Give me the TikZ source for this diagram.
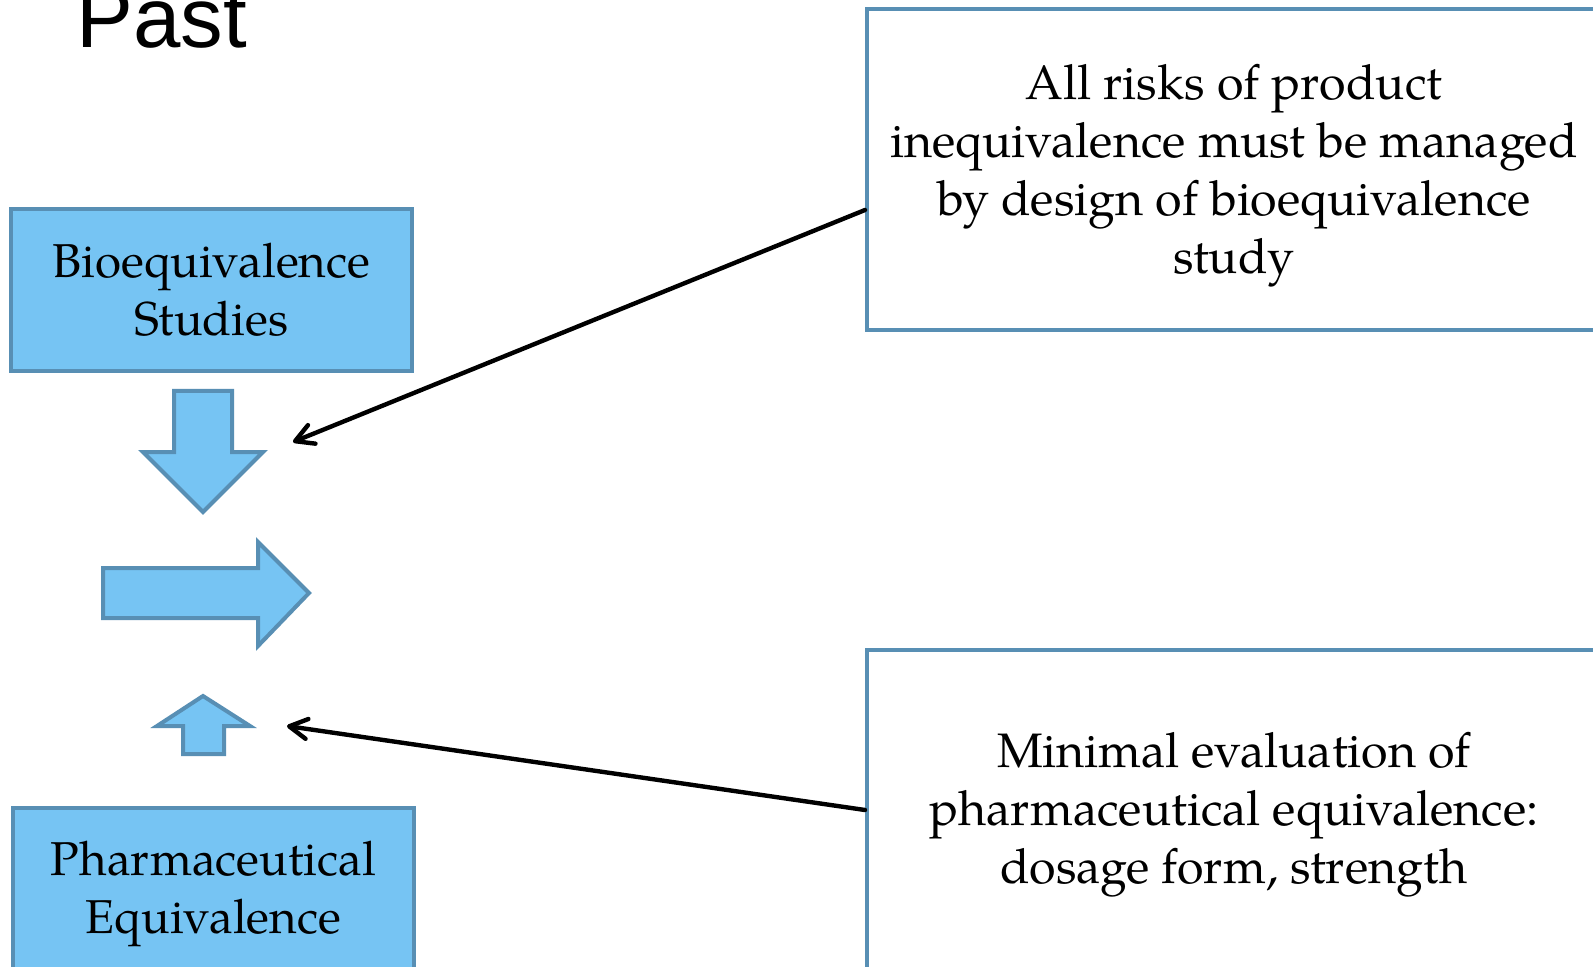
\documentclass[tikz,border=0pt]{standalone}
\usepackage{fontspec}
\setmainfont{texgyrepagella}[Extension=.otf, UprightFont=*-regular]
\newfontfamily\titlefont{Liberation Sans}
\usetikzlibrary{arrows.meta}
\definecolor{boxfill}{RGB}{118,196,243}
\definecolor{boxline}{RGB}{88,143,180}
\tikzset{
  bluebox/.style={draw=boxline, fill=boxfill, line width=2pt, align=center, inner sep=0pt,
    font=\fontsize{23.75}{29}\selectfont},
  notebox/.style={draw=boxline, fill=white, line width=2pt, inner sep=0pt},
  notetext/.style={align=center, inner sep=0pt, font=\fontsize{24.2}{29}\selectfont},
  blockarrow/.style={draw=boxline, fill=boxfill, line width=2pt, line join=miter},
  conn/.style={line width=2.2pt, -{Straight Barb[length=9pt,width=10pt,line cap=round,line join=round]}, line cap=round}
}
\begin{document}
\begin{tikzpicture}[x=0.5pt, y=-0.5pt]
\useasboundingbox (0,0) rectangle (1593,967);
\clip (0,0) rectangle (1593,967);
\fill[white] (0,0) rectangle (1593,967);

% title
\node[anchor=base west, inner sep=0pt, font=\titlefont\fontsize{42.6}{46}\selectfont] (title) at (76,48) {Past};

% left boxes
\node[bluebox, minimum width=200.5pt, minimum height=81pt] (bio) at (211.5,290) {Bioequivalence\\Studies};
\node[bluebox, minimum width=200.5pt, minimum height=86pt] (pharm) at (213.5,894) {Pharmaceutical\\Equivalence};

% block arrows
\draw[blockarrow] (174,391) -- (232,391) -- (232,452) -- (263,452) -- (203,512) -- (143,452) -- (174,452) -- cycle;
\draw[blockarrow] (103,568) -- (258,568) -- (258,542) -- (309,593) -- (258,646) -- (258,618) -- (103,618) -- cycle;
\draw[blockarrow] (203,696) -- (250,726) -- (224,726) -- (224,754) -- (183,754) -- (183,726) -- (157,726) -- cycle;

% right boxes
\node[notebox, minimum width=416.5pt, minimum height=160.5pt] (rbox1) at (1283.5,169.5) {};
\node[notetext] (rtext1) at (1234,175.5) {All risks of product\\inequivalence must be managed\\by design of bioequivalence\\study};
\node[notebox, minimum width=416.5pt, minimum height=170pt] (rbox2) at (1283.5,820) {};
\node[notetext] (rtext2) at (1234,815) {Minimal evaluation of\\pharmaceutical equivalence:\\dosage form, strength};

% connectors
\coordinate (tip1) at (293,442);
\coordinate (tip2) at (287,726);
\draw[conn] ([yshift=-20.25pt]rbox1.west) -- (tip1);
\draw[conn] ([yshift=5pt]rbox2.west) -- (tip2);
\end{tikzpicture}
\end{document}
